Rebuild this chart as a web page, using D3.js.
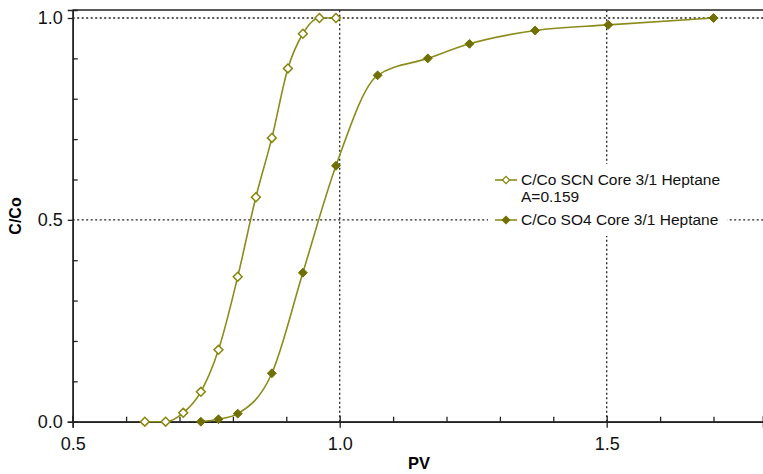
<!DOCTYPE html>
<html>
<head>
<meta charset="utf-8">
<script src="https://cdn.jsdelivr.net/npm/d3@7"></script>
<style>
body { margin: 0; background: #fff; }
text { font-family: "Liberation Sans", Arial, sans-serif; }
</style>
</head>
<body>
<div id="chart"></div>
<script>
// SCN tracer (open diamonds)
var scnPV = [0.635, 0.674, 0.707, 0.740, 0.773, 0.809, 0.843, 0.873, 0.903, 0.931, 0.962, 0.993];
var scnC  = [0.0, 0.0, 0.022, 0.074, 0.178, 0.359, 0.556, 0.703, 0.875, 0.961, 1.0, 1.0];
// SO4 (filled diamonds)
var so4PV = [0.740, 0.773, 0.809, 0.873, 0.931, 0.993, 1.071, 1.165, 1.243, 1.366, 1.503, 1.700];
var so4C  = [0.0, 0.006, 0.020, 0.120, 0.369, 0.634, 0.858, 0.900, 0.936, 0.969, 0.983, 1.0];

var xMajor = [0.5, 1.0, 1.5];
var xMinor = [0.6, 0.7, 0.8, 0.9, 1.1, 1.2, 1.3, 1.4, 1.6, 1.7];
var yMajor = [0.0, 0.5, 1.0];
var yMinor = [0.1, 0.2, 0.3, 0.4, 0.6, 0.7, 0.8, 0.9];
var legendLabels = ["C/Co SCN Core 3/1 Heptane", "A=0.159", "C/Co SO4 Core 3/1 Heptane"];

var w = 763, h = 474;
var mLeft = 72.7, mRight = 763, mTop = 10, mBottom = 421.7;

var svg = d3.select('#chart').append('svg')
	.attr('width', w)
	.attr('height', h);

// 534 px per PV unit, 403.7 px per C/Co unit
var x = d3.scaleLinear().domain([0.5, 0.5 + (mRight - mLeft) / 534]).range([mLeft, mRight]);
var y = d3.scaleLinear().domain([0, 1 + (18 - mTop) / 403.7]).range([mBottom, mTop]);

var lineCol = '#8c8c1c';
var markCol = '#6f7000';

// dotted grid lines
var grid = svg.append('g');
[1.0, 1.5].forEach(function(v){
	grid.append('line')
		.attr('x1', x(v)).attr('x2', x(v))
		.attr('y1', y(0)).attr('y2', mTop)
		.attr('stroke', '#222').attr('stroke-width', 1.3)
		.attr('stroke-dasharray', '2,2.5');
});
[0.5, 1.0].forEach(function(v){
	grid.append('line')
		.attr('x1', mLeft).attr('x2', mRight)
		.attr('y1', y(v)).attr('y2', y(v))
		.attr('stroke', '#222').attr('stroke-width', 1.3)
		.attr('stroke-dasharray', '2,2.5');
});

// frame top line
svg.append('line')
	.attr('x1', mLeft).attr('x2', mRight)
	.attr('y1', mTop).attr('y2', mTop)
	.attr('stroke', '#222').attr('stroke-width', 1.5);

// axes
var xAxis = svg.append('g')
	.attr('transform', 'translate(0,' + mBottom + ')')
	.call(d3.axisBottom(x).tickValues(xMajor).tickSize(6).tickFormat(d3.format('.1f')));
svg.append('g')
	.attr('transform', 'translate(0,' + mBottom + ')')
	.call(d3.axisBottom(x).tickValues(xMinor).tickSize(-5).tickFormat(''));
svg.append('g')
	.attr('transform', 'translate(0,' + mBottom + ')')
	.call(d3.axisBottom(x).tickValues(xMajor).tickSize(-6).tickFormat(''));

var yAxis = svg.append('g')
	.attr('transform', 'translate(' + mLeft + ',0)')
	.call(d3.axisLeft(y).tickValues(yMajor).tickSize(5).tickFormat(d3.format('.1f')));
svg.append('g')
	.attr('transform', 'translate(' + mLeft + ',0)')
	.call(d3.axisLeft(y).tickValues(yMinor).tickSize(-5).tickFormat(''));

svg.selectAll('.domain').attr('stroke', '#222').attr('stroke-width', 1.5);
svg.selectAll('.tick line').attr('stroke', '#222').attr('stroke-width', 1.3);
svg.selectAll('.tick text').attr('fill', '#111').style('font-size', '18px');
xAxis.selectAll('.tick text').attr('dy', '1.05em');
yAxis.selectAll('.tick text').attr('x', -10);

// axis titles
svg.append('text')
	.attr('x', 419).attr('y', 469)
	.attr('text-anchor', 'middle')
	.style('font-size', '16.5px').style('font-weight', 'bold')
	.text('PV');
svg.append('text')
	.attr('transform', 'translate(21,216) rotate(-90)')
	.attr('text-anchor', 'middle')
	.style('font-size', '16px').style('font-weight', 'bold')
	.text('C/Co');

// series
var line = d3.line()
	.x(function(d){ return x(d[0]); })
	.y(function(d){ return y(d[1]); })
	.curve(d3.curveMonotoneX);

var scn = scnPV.map(function(v, i){ return [v, scnC[i]]; });
var so4 = so4PV.map(function(v, i){ return [v, so4C[i]]; });

svg.append('path').datum(scn)
	.attr('d', line).attr('fill', 'none')
	.attr('stroke', lineCol).attr('stroke-width', 1.6);
svg.append('path').datum(so4)
	.attr('d', line).attr('fill', 'none')
	.attr('stroke', lineCol).attr('stroke-width', 1.6);

var diamond = d3.symbol().type(d3.symbolDiamond2).size(50);

svg.selectAll('.scn').data(scn).enter()
	.append('path')
	.attr('transform', function(d){ return 'translate(' + x(d[0]) + ',' + y(d[1]) + ')'; })
	.attr('d', diamond)
	.attr('fill', '#fff').attr('stroke', '#85850a').attr('stroke-width', 1.5);

svg.selectAll('.so4').data(so4).enter()
	.append('path')
	.attr('transform', function(d){ return 'translate(' + x(d[0]) + ',' + y(d[1]) + ')'; })
	.attr('d', diamond)
	.attr('fill', markCol).attr('stroke', markCol).attr('stroke-width', 1);

// legend
var lg = svg.append('g');
lg.append('rect')
	.attr('x', 488).attr('y', 164).attr('width', 239).attr('height', 72)
	.attr('fill', '#fff');
var rowsY = [180, 197, 220];
[0, 2].forEach(function(r){
	lg.append('line')
		.attr('x1', 495).attr('x2', 517)
		.attr('y1', rowsY[r]).attr('y2', rowsY[r])
		.attr('stroke', lineCol).attr('stroke-width', 1.6);
	lg.append('path')
		.attr('transform', 'translate(506,' + rowsY[r] + ')')
		.attr('d', d3.symbol().type(d3.symbolDiamond2).size(34))
		.attr('fill', r === 0 ? '#fff' : markCol)
		.attr('stroke', r === 0 ? '#85850a' : markCol)
		.attr('stroke-width', 1.3);
});
legendLabels.forEach(function(t, i){
	lg.append('text')
		.attr('x', 521).attr('y', rowsY[i])
		.attr('dy', '0.35em')
		.style('font-size', '15.5px').attr('fill', '#111')
		.text(t);
});
</script>
</body>
</html>
